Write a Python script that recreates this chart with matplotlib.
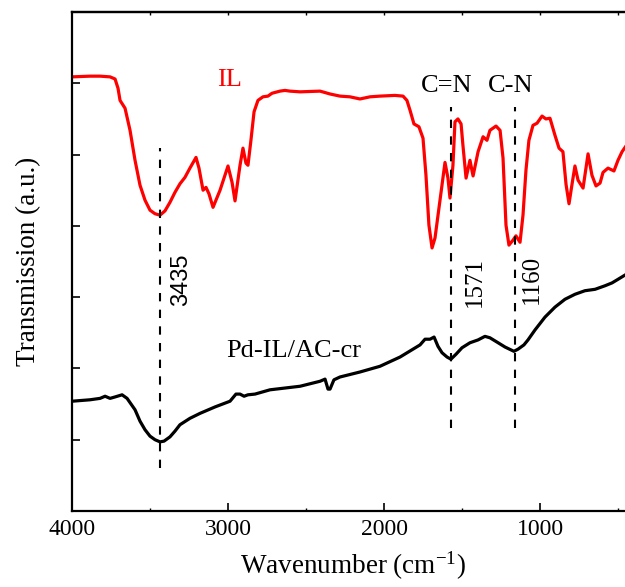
import matplotlib
matplotlib.use("Agg")
import matplotlib.pyplot as plt
import numpy as np

plt.rcParams['font.family'] = ['Liberation Serif', 'DejaVu Serif']
plt.rcParams['mathtext.fontset'] = 'custom'
plt.rcParams['mathtext.rm'] = 'Liberation Serif'
plt.rcParams['mathtext.it'] = 'Liberation Serif:italic'

# IL spectrum (red)
il_wn = [4000, 3885, 3820, 3756, 3724, 3705, 3692, 3660, 3628, 3596, 3564, 3532, 3500,
         3468, 3436, 3404, 3372, 3340, 3308, 3276, 3244, 3205, 3186, 3160, 3141, 3122,
         3096, 3051, 3000, 2974, 2955, 2923, 2904, 2885, 2872, 2853, 2833, 2808, 2776,
         2744, 2718, 2667, 2635, 2603, 2538, 2410, 2346, 2282, 2218, 2154, 2090, 2026,
         1930, 1878, 1853, 1833, 1808, 1776, 1750, 1731, 1712, 1692, 1673, 1641, 1609,
         1590, 1577, 1558, 1545, 1526, 1506, 1494, 1474, 1449, 1429, 1397, 1365, 1340,
         1321, 1282, 1256, 1237, 1218, 1199, 1173, 1154, 1128, 1109, 1090, 1071, 1045,
         1019, 987, 962, 936, 904, 878, 853, 833, 814, 795, 776, 756, 724, 692, 667,
         641, 615, 596, 564, 526, 500, 474, 449, 400]
il_t = [6.09, 6.10, 6.10, 6.09, 6.06, 5.93, 5.76, 5.65, 5.34, 4.92, 4.57, 4.36, 4.22,
        4.17, 4.15, 4.21, 4.33, 4.47, 4.59, 4.68, 4.81, 4.96, 4.81, 4.50, 4.54, 4.45,
        4.26, 4.50, 4.84, 4.61, 4.35, 4.85, 5.09, 4.88, 4.85, 5.20, 5.60, 5.76, 5.81,
        5.82, 5.86, 5.89, 5.90, 5.89, 5.88, 5.89, 5.85, 5.82, 5.81, 5.78, 5.81, 5.82,
        5.83, 5.82, 5.76, 5.62, 5.43, 5.39, 5.23, 4.71, 4.01, 3.69, 3.83, 4.36, 4.89,
        4.67, 4.39, 4.85, 5.46, 5.50, 5.43, 5.13, 4.67, 4.92, 4.70, 5.04, 5.25, 5.20,
        5.34, 5.40, 5.34, 4.95, 4.01, 3.73, 3.80, 3.86, 3.77, 4.15, 4.78, 5.20, 5.41,
        5.44, 5.54, 5.50, 5.51, 5.27, 5.09, 5.04, 4.58, 4.31, 4.58, 4.84, 4.64, 4.53,
        5.01, 4.71, 4.56, 4.60, 4.75, 4.81, 4.77, 4.92, 5.04, 5.12, 5.20]

# Pd-IL/AC-cr spectrum (black)
pd_wn = [4000, 3885, 3820, 3788, 3756, 3724, 3679, 3647, 3596, 3564, 3532, 3500, 3468,
         3436, 3410, 3372, 3340, 3308, 3244, 3179, 3083, 2987, 2949, 2923, 2897, 2872,
         2827, 2731, 2538, 2410, 2378, 2359, 2346, 2321, 2282, 2154, 2026, 1897, 1769,
         1737, 1705, 1679, 1654, 1628, 1596, 1571, 1538, 1500, 1449, 1397, 1353, 1321,
         1276, 1224, 1167, 1141, 1103, 1077, 1032, 968, 904, 840, 776, 712, 647, 583,
         538, 500, 455, 400]
pd_t = [1.54, 1.56, 1.58, 1.61, 1.58, 1.60, 1.63, 1.58, 1.42, 1.26, 1.14, 1.05, 1.00,
        0.97, 0.98, 1.04, 1.12, 1.21, 1.30, 1.37, 1.46, 1.54, 1.64, 1.64, 1.61, 1.63,
        1.64, 1.70, 1.75, 1.82, 1.85, 1.71, 1.71, 1.84, 1.88, 1.95, 2.03, 2.16, 2.33,
        2.41, 2.41, 2.44, 2.31, 2.22, 2.16, 2.13, 2.20, 2.29, 2.36, 2.40, 2.45, 2.43,
        2.37, 2.30, 2.24, 2.27, 2.33, 2.40, 2.54, 2.72, 2.86, 2.97, 3.04, 3.09, 3.11,
        3.16, 3.20, 3.25, 3.31, 3.38]

peak_wn = [3435, 1571, 1160]
peak_labels = ['3435', '1571', '1160']
peak_top = [5.09, 5.67, 5.67]
peak_bottom = [0.60, 1.16, 1.16]

fig = plt.figure(figsize=(6.25, 5.87), dpi=100)
ax = fig.add_axes([72/625, 1-511/587, (633.6-72)/625, (511-12)/587])

ax.plot(il_wn, il_t, color='#ff0000', lw=2.3, solid_joinstyle='round')
ax.plot(pd_wn, pd_t, color='black', lw=2.3, solid_joinstyle='round')

for w, t, b in zip(peak_wn, peak_top, peak_bottom):
    ax.plot([w, w], [b, t], color='black', lw=1.5, ls=(0, (4, 4)))

ax.set_xlim(4000, 400)
ax.set_ylim(0, 7)
ax.set_xticks([4000, 3000, 2000, 1000])
ax.set_xticks([3500, 2500, 1500, 500], minor=True)
ax.set_yticks([1, 2, 3, 4, 5, 6])
ax.set_yticklabels([])
ax.tick_params(axis='x', which='major', direction='in', length=6, width=1.2,
               labelsize=17, pad=6, top=False)
ax.tick_params(axis='x', which='minor', direction='in', length=2, width=1, top=False)
ax.tick_params(axis='y', which='major', direction='in', length=6, width=1.2, right=False)
for lbl in ax.get_xticklabels():
    lbl.set_family('Liberation Serif')
secx = ax.secondary_xaxis('top')
secx.set_xticks([3500, 3000, 2500, 2000, 1500, 1000, 500])
secx.tick_params(direction='in', length=2, width=1, labeltop=False)
secx.set_xticklabels([])
secx.spines['top'].set_linewidth(1.6)
for s in ['left', 'bottom', 'top']:
    ax.spines[s].set_linewidth(1.6)
ax.spines['right'].set_visible(False)

ax.set_xlabel('Wavenumber (cm$^{-1}$)', fontsize=19.5, labelpad=7)
ax.set_ylabel('Transmission (a.u.)', fontsize=19.5, labelpad=19)

ax.text(2990, 6.04, 'IL', color='#ff0000', fontsize=19, ha='center', va='center')
ax.text(1596, 5.96, 'C=N', fontsize=19, ha='center', va='center')
ax.text(1186, 5.96, 'C-N', fontsize=19, ha='center', va='center')
ax.text(2577, 2.25, 'Pd-IL/AC-cr', fontsize=19, ha='center', va='center')
ax.text(3301, 3.24, peak_labels[0], fontsize=17, rotation=90, ha='center', va='center',
        family='Liberation Sans')
ax.text(1417, 3.21, peak_labels[1], fontsize=18, rotation=90, ha='center', va='center',
        family='Liberation Serif')
ax.text(1051, 3.25, peak_labels[2], fontsize=18, rotation=90, ha='center', va='center',
        family='Liberation Serif')

fig.savefig('out.png', dpi=100)
